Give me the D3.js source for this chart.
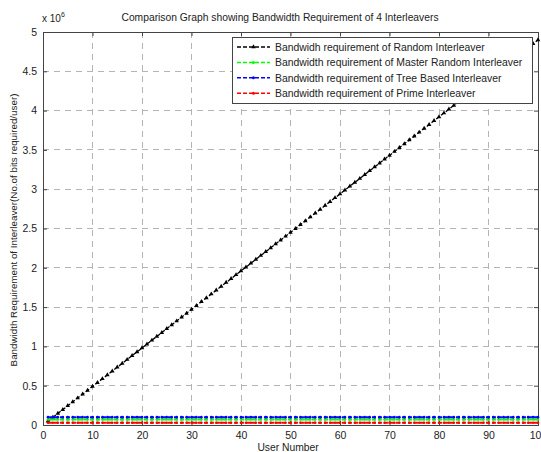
<!DOCTYPE html>
<html>
<head>
<meta charset="utf-8">
<script src="https://cdn.jsdelivr.net/npm/d3@7"></script>
<style>
  html, body { margin: 0; padding: 0; background: #fff; }
  svg { display: block; font-family: "Liberation Sans", Arial, sans-serif; }
</style>
</head>
<body>
<svg id="chart" width="541" height="452"></svg>
<script>
// Number of users on the x axis
const users = d3.range(1, 101);

// Bandwidth requirement (x 10^6 bits per user) for each interleaver
const randomBW = [
  0.049,0.098,0.147,0.196,0.245,0.294,0.343,0.392,0.441,0.490,
  0.539,0.588,0.637,0.686,0.735,0.784,0.833,0.882,0.931,0.980,
  1.029,1.078,1.127,1.176,1.225,1.274,1.323,1.372,1.421,1.470,
  1.519,1.568,1.617,1.666,1.715,1.764,1.813,1.862,1.911,1.960,
  2.009,2.058,2.107,2.156,2.205,2.254,2.303,2.352,2.401,2.450,
  2.499,2.548,2.597,2.646,2.695,2.744,2.793,2.842,2.891,2.940,
  2.989,3.038,3.087,3.136,3.185,3.234,3.283,3.332,3.381,3.430,
  3.479,3.528,3.577,3.626,3.675,3.724,3.773,3.822,3.871,3.920,
  3.969,4.018,4.067,4.116,4.165,4.214,4.263,4.312,4.361,4.410,
  4.459,4.508,4.557,4.606,4.655,4.704,4.753,4.802,4.851,4.900
];
const masterRandomBW = users.map(() => 0.07);
const treeBasedBW = users.map(() => 0.10);
const primeBW = users.map(() => 0.028);

const xTicks = [0,10,20,30,40,50,60,70,80,90,100];
const yTicks = [0,0.5,1,1.5,2,2.5,3,3.5,4,4.5,5];

const series = [
  { name: "Bandwidh requirement of Random Interleaver", values: randomBW, color: "#000000", marker: "triangle" },
  { name: "Bandwidth requirement of Master Random Interleaver", values: masterRandomBW, color: "#00ff00", marker: "dot" },
  { name: "Bandwidth requirement of Tree Based Interleaver", values: treeBasedBW, color: "#0000ff", marker: "dot" },
  { name: "Bandwidth requirement of Prime Interleaver", values: primeBW, color: "#ff0000", marker: "dot" }
];

const svg = d3.select("#chart");
const m = { left: 43, right: 538, top: 32, bottom: 425 };

const x = d3.scaleLinear().domain([0, 100]).range([m.left, m.right]);
const y = d3.scaleLinear().domain([0, 5]).range([m.bottom, m.top]);

// Grid
const grid = svg.append("g").attr("stroke", "#b4b4b4").attr("stroke-width", 1)
  .attr("stroke-dasharray", "6,5").attr("shape-rendering", "crispEdges");
xTicks.slice(1, -1).forEach(t => grid.append("line")
  .attr("x1", x(t)).attr("x2", x(t)).attr("y1", m.top).attr("y2", m.bottom));
yTicks.slice(1, -1).forEach(t => grid.append("line")
  .attr("x1", m.left).attr("x2", m.right).attr("y1", y(t)).attr("y2", y(t)));

// Axes (ticks drawn inward, mirrored on top and right)
const axisColor = "#444";
svg.append("g").attr("transform", `translate(0,${m.bottom})`)
  .call(d3.axisBottom(x).tickValues(xTicks).tickSizeInner(-4).tickSizeOuter(0).tickPadding(7));
svg.append("g").attr("transform", `translate(${m.left},0)`)
  .call(d3.axisLeft(y).tickValues(yTicks).tickSizeInner(-4).tickSizeOuter(0).tickPadding(6)
    .tickFormat(d => d3.format("~g")(d)));
svg.append("g").attr("transform", `translate(0,${m.top})`)
  .call(d3.axisTop(x).tickValues(xTicks).tickSizeInner(-4).tickSizeOuter(0).tickFormat(""));
svg.append("g").attr("transform", `translate(${m.right},0)`)
  .call(d3.axisRight(y).tickValues(yTicks).tickSizeInner(-4).tickSizeOuter(0).tickFormat(""));
svg.selectAll(".domain").attr("stroke", axisColor);
svg.selectAll(".tick line").attr("stroke", axisColor);
svg.selectAll(".tick text").attr("fill", "#222").attr("font-size", 10.5)
  .attr("font-family", "Liberation Sans, Arial, sans-serif");

// Frame
svg.append("rect").attr("x", m.left).attr("y", m.top)
  .attr("width", m.right - m.left).attr("height", m.bottom - m.top)
  .attr("fill", "none").attr("stroke", axisColor).attr("shape-rendering", "crispEdges");

// Data lines
const line = d3.line().x((d, i) => x(users[i])).y(d => y(d));
const tri = d3.symbol().type(d3.symbolTriangle).size(9);

series.forEach(s => {
  const g = svg.append("g");
  g.append("path").attr("d", line(s.values)).attr("fill", "none")
    .attr("stroke", s.color).attr("stroke-width", s.marker === "dot" ? 2 : 1.3)
    .attr("stroke-dasharray", "4,2");
  if (s.marker === "triangle") {
    g.selectAll("path.m").data(s.values).join("path").attr("class", "m")
      .attr("d", tri).attr("fill", s.color)
      .attr("transform", (d, i) => `translate(${x(users[i])},${y(d)})`);
  } else {
    g.selectAll("circle").data(s.values).join("circle")
      .attr("cx", (d, i) => x(users[i])).attr("cy", d => y(d)).attr("r", 1.3)
      .attr("fill", s.color);
  }
});

// Legend
const lg = svg.append("g");
lg.append("rect").attr("x", 232.5).attr("y", 37.5).attr("width", 300).attr("height", 66)
  .attr("fill", "#fff").attr("stroke", axisColor);
series.forEach((s, i) => {
  const ly = 47 + i * 15.4;
  lg.append("line").attr("x1", 237).attr("x2", 270).attr("y1", ly).attr("y2", ly)
    .attr("stroke", s.color).attr("stroke-width", 1.5).attr("stroke-dasharray", "4,2");
  if (s.marker === "triangle") {
    lg.append("path").attr("d", tri).attr("fill", s.color).attr("transform", `translate(253.5,${ly})`);
  } else {
    lg.append("circle").attr("cx", 253.5).attr("cy", ly).attr("r", 1.5).attr("fill", s.color);
  }
  lg.append("text").attr("x", 275).attr("y", ly + 3.8).attr("font-size", 10.4)
    .attr("fill", "#222").text(s.name);
});

// Title and labels
svg.append("text").attr("x", 280).attr("y", 21).attr("text-anchor", "middle")
  .attr("font-size", 10.3).attr("fill", "#222")
  .text("Comparison Graph showing Bandwidth Requirement of 4 Interleavers");

const exp = svg.append("text").attr("x", 42).attr("y", 22).attr("font-size", 10).attr("fill", "#222");
exp.append("tspan").text("x 10");
exp.append("tspan").attr("dy", -5).attr("font-size", 7).text("6");

svg.append("text").attr("x", 288).attr("y", 451).attr("text-anchor", "middle")
  .attr("font-size", 10.3).attr("fill", "#222").text("User Number");

svg.append("text").attr("transform", "translate(17,230) rotate(-90)")
  .attr("text-anchor", "middle").attr("font-size", 9.8).attr("fill", "#222")
  .text("Bandwidth Requirement of Interleaver(No.of bits required/user)");
</script>
</body>
</html>
